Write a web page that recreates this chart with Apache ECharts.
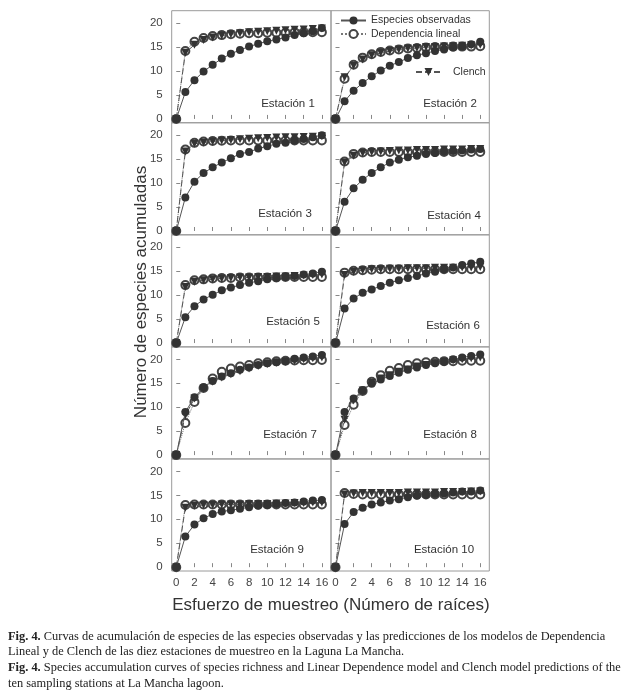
<!DOCTYPE html>
<html>
<head>
<meta charset="utf-8">
<script src="https://cdn.jsdelivr.net/npm/echarts@6/dist/echarts.min.js"></script>
<style>
html,body{margin:0;padding:0;background:#fff;}
#chart{width:625px;height:695px;}
</style>
</head>
<body>
<div id="chart"></div>
<script>
// Sampling effort (number of roots)
const efforts = [0,1,2,3,4,5,6,7,8,9,10,11,12,13,14,15,16];
const xTickValues = [0,2,4,6,8,10,12,14,16];
const yTickValues = [0,5,10,15,20];
const stationNames = ['Estación 1','Estación 2','Estación 3','Estación 4','Estación 5','Estación 6','Estación 7','Estación 8','Estación 9','Estación 10'];
const seriesNames = ['Especies observadas','Dependencia lineal','Clench'];

// Observed species
const obs1 = [0,5.6,8.1,9.9,11.3,12.6,13.6,14.4,15.1,15.7,16.2,16.6,17.0,17.5,17.9,18.3,19.0];
const obs2 = [0,3.7,5.9,7.5,8.9,10.1,11.1,11.9,12.7,13.3,13.7,14.2,14.5,14.9,15.1,15.6,16.1];
const obs3 = [0,7.0,10.3,12.1,13.3,14.3,15.2,16.1,16.5,17.2,17.7,18.2,18.4,18.9,19.2,19.6,20.0];
const obs4 = [0,6.1,8.9,10.7,12.1,13.3,14.3,14.9,15.4,15.7,16.1,16.3,16.6,16.7,16.8,17.0,17.1];
const obs5 = [0,5.4,7.7,9.1,10.1,11.0,11.6,12.1,12.6,12.9,13.3,13.6,13.8,14.0,14.3,14.5,14.9];
const obs6 = [0,7.2,9.3,10.5,11.2,11.9,12.6,13.1,13.6,14.0,14.5,14.9,15.4,15.8,16.3,16.6,17.0];
const obs7 = [0,9.0,12.1,14.1,15.5,16.4,17.1,17.8,18.3,18.8,19.2,19.4,19.6,20.1,20.4,20.6,20.9];
const obs8 = [0,9.0,11.8,13.5,14.9,15.8,16.5,17.2,17.8,18.3,18.8,19.2,19.5,20.0,20.4,20.7,21.0];
const obs9 = [0,6.4,8.9,10.2,11.1,11.6,11.9,12.2,12.5,12.8,13.0,13.2,13.4,13.5,13.7,13.9,14.0];
const obs10 = [0,9.0,11.5,12.4,13.1,13.5,13.9,14.2,14.6,14.9,15.1,15.3,15.4,15.6,15.8,15.8,16.0];

// Linear dependence model
const lin1 = [0,14.2,16.1,16.9,17.3,17.5,17.7,17.8,17.9,17.9,18.0,18.0,18.0,18.1,18.1,18.1,18.1];
const lin2 = [0,8.4,11.3,12.8,13.5,14.0,14.3,14.5,14.7,14.8,14.9,15.0,15.0,15.1,15.1,15.1,15.2];
const lin3 = [0,17.0,18.4,18.7,18.8,18.85,18.9,18.9,18.9,18.9,18.9,18.9,18.9,18.9,18.9,18.9,18.9];
const lin4 = [0,14.5,16.1,16.4,16.5,16.5,16.5,16.5,16.5,16.5,16.5,16.5,16.5,16.5,16.5,16.5,16.5];
const lin5 = [0,12.1,13.1,13.3,13.5,13.6,13.6,13.7,13.7,13.7,13.7,13.7,13.8,13.8,13.8,13.8,13.8];
const lin6 = [0,14.7,15.1,15.2,15.3,15.4,15.4,15.4,15.4,15.4,15.4,15.4,15.4,15.4,15.4,15.4,15.4];
const lin7 = [0,6.7,11.1,14.0,16.0,17.4,18.1,18.5,18.8,19.2,19.4,19.6,19.7,19.75,19.8,19.8,19.85];
const lin8 = [0,6.3,10.5,13.4,15.3,16.7,17.6,18.2,18.8,19.2,19.4,19.5,19.6,19.6,19.7,19.7,19.7];
const lin9 = [0,13.0,13.1,13.1,13.1,13.1,13.1,13.1,13.1,13.1,13.1,13.1,13.1,13.1,13.1,13.1,13.1];
const lin10 = [0,15.5,15.3,15.2,15.2,15.2,15.2,15.2,15.2,15.2,15.2,15.2,15.2,15.2,15.2,15.2,15.2];

// Clench model
const cle1 = [0,13.8,15.5,16.5,17.0,17.4,17.7,17.9,18.1,18.2,18.3,18.4,18.5,18.6,18.7,18.8,18.9];
const cle2 = [0,8.7,11.1,12.4,13.3,13.8,14.2,14.5,14.7,14.8,15.0,15.0,15.1,15.2,15.3,15.4,15.5];
const cle3 = [0,16.6,18.2,18.5,18.7,18.9,19.0,19.15,19.25,19.35,19.4,19.5,19.55,19.6,19.65,19.7,19.8];
const cle4 = [0,14.3,15.7,16.3,16.5,16.6,16.7,16.8,16.8,16.9,16.9,16.9,17.0,17.0,17.0,17.1,17.1];
const cle5 = [0,11.7,12.8,13.1,13.3,13.5,13.6,13.7,13.7,13.8,13.8,13.9,13.9,14.0,14.1,14.2,14.3];
const cle6 = [0,14.2,14.9,15.2,15.4,15.4,15.5,15.5,15.6,15.6,15.6,15.7,15.7,15.7,15.8,15.8,15.9];
const cle7 = [0,8.3,11.8,13.9,15.3,16.2,16.9,17.5,18.1,18.6,19.0,19.3,19.5,19.7,20.0,20.2,20.4];
const cle8 = [0,7.4,11.4,13.5,15.1,16.0,16.7,17.4,17.9,18.5,18.8,19.2,19.5,19.8,20.0,20.2,20.4];
const cle9 = [0,12.4,12.8,13.0,13.0,13.1,13.1,13.1,13.2,13.2,13.2,13.3,13.3,13.4,13.4,13.5,13.5];
const cle10 = [0,15.2,15.4,15.5,15.5,15.5,15.5,15.5,15.6,15.6,15.6,15.6,15.7,15.7,15.7,15.8,15.8];

const observed = [obs1,obs2,obs3,obs4,obs5,obs6,obs7,obs8,obs9,obs10];
const linear = [lin1,lin2,lin3,lin4,lin5,lin6,lin7,lin8,lin9,lin10];
const clench = [cle1,cle2,cle3,cle4,cle5,cle6,cle7,cle8,cle9,cle10];

const FONT = '"Liberation Sans", Arial, sans-serif';
const SERIF = '"Liberation Serif", "Times New Roman", serif';
const colLeft = [171.7, 331];
const colWidth = [159.3, 158.3];
const rowTop = 10.7, rowH = 112.06;
const labelPos = [[288,104],[450,104],[285,214],[454,216],[293,322],[453,326],[290,435],[450,435],[277,550],[444,550]];

const pairs = arr => efforts.map((x,i)=>[x,arr[i]]);

const grids=[], xAxes=[], yAxes=[], series=[], graphics=[];
for (let p=0;p<10;p++){
  const col=p%2, row=Math.floor(p/2);
  grids.push({left:colLeft[col], top:rowTop+row*rowH, width:colWidth[col], height:rowH,
    show:true, borderColor:'#9a9a9a', borderWidth:1, containLabel:false});
  xAxes.push({gridIndex:p, type:'value', min:-0.5, max:17,
    axisLine:{show:false}, splitLine:{show:false},
    axisTick:{show:true, inside:true, length:4, customValues:xTickValues, lineStyle:{color:'#888'}},
    axisLabel:{show:row===4, customValues:xTickValues, fontSize:11.5, color:'#444', fontFamily:FONT, margin:6}});
  yAxes.push({gridIndex:p, type:'value', min:-0.8, max:22.6,
    axisLine:{show:false}, splitLine:{show:false},
    axisTick:{show:true, inside:true, length:4, customValues:yTickValues, lineStyle:{color:'#888'}},
    axisLabel:{show:col===0, customValues:yTickValues, fontSize:11.5, color:'#444', fontFamily:FONT, margin:9}});
  series.push({name:seriesNames[1], type:'line', xAxisIndex:p, yAxisIndex:p, data:pairs(linear[p]),
    symbol:'emptyCircle', symbolSize:8, z:2,
    itemStyle:{color:'#444', borderWidth:1},
    lineStyle:{color:'#777', width:1, type:'dotted'}});
  series.push({name:seriesNames[2], type:'line', xAxisIndex:p, yAxisIndex:p, data:pairs(clench[p]),
    symbol:'triangle', symbolRotate:180, symbolSize:8, z:3,
    itemStyle:{color:'#333'},
    lineStyle:{color:'#555', width:1, type:[6,3]}});
  series.push({name:seriesNames[0], type:'line', xAxisIndex:p, yAxisIndex:p, data:pairs(observed[p]),
    symbol:'circle', symbolSize:8, z:4,
    itemStyle:{color:'#333'},
    lineStyle:{color:'#555', width:1}});
  graphics.push({type:'text', x:labelPos[p][0], y:labelPos[p][1],
    style:{text:stationNames[p], font:'11.5px '+FONT, fill:'#333', align:'center', verticalAlign:'middle'}});
}

graphics.push({type:'text', x:141, y:292, rotation:Math.PI/2,
  style:{text:'Número de especies acumuladas', font:'17px '+FONT, fill:'#333', align:'center', verticalAlign:'middle'}});
graphics.push({type:'text', x:331, y:605,
  style:{text:'Esfuerzo de muestreo (Número de raíces)', font:'17px '+FONT, fill:'#333', align:'center', verticalAlign:'middle'}});

const captionLines = [
  ['Fig. 4.', ' Curvas de acumulación de especies de las especies observadas y las predicciones de los modelos de Dependencia'],
  ['', 'Lineal y de Clench de las diez estaciones de muestreo en la Laguna La Mancha.'],
  ['Fig. 4.', ' Species accumulation curves of species richness and Linear Dependence model and Clench model predictions of the'],
  ['', 'ten sampling stations at La Mancha lagoon.']
];
const capY = [637, 652, 668, 684];
captionLines.forEach((ln,i)=>{
  graphics.push({type:'text', x:8, y:capY[i],
    style:{text:(ln[0]?'{b|'+ln[0]+'}':'')+'{n|'+ln[1]+'}', verticalAlign:'middle', align:'left',
      rich:{b:{fontFamily:SERIF, fontSize:12.4, fontWeight:'bold', fill:'#222', color:'#222'},
            n:{fontFamily:SERIF, fontSize:12.4, fill:'#222', color:'#222'}}}});
});

const chart = echarts.init(document.getElementById('chart'), null, {renderer:'canvas'});
chart.setOption({
  animation:false,
  backgroundColor:'#fff',
  grid:grids, xAxis:xAxes, yAxis:yAxes, series:series,
  legend:[
    {data:[seriesNames[0], seriesNames[1]], orient:'vertical', left:340, top:15,
     itemWidth:25, itemHeight:10, itemGap:2.5, padding:0,
     textStyle:{fontSize:10.5, color:'#333', fontFamily:FONT}},
    {data:[seriesNames[2]], orient:'vertical', left:415, top:66.5,
     itemWidth:25, itemHeight:10, padding:0,
     textStyle:{fontSize:10.5, color:'#333', fontFamily:FONT, padding:[0,0,0,7]}}
  ],
  graphic:graphics
});
</script>
</body>
</html>
